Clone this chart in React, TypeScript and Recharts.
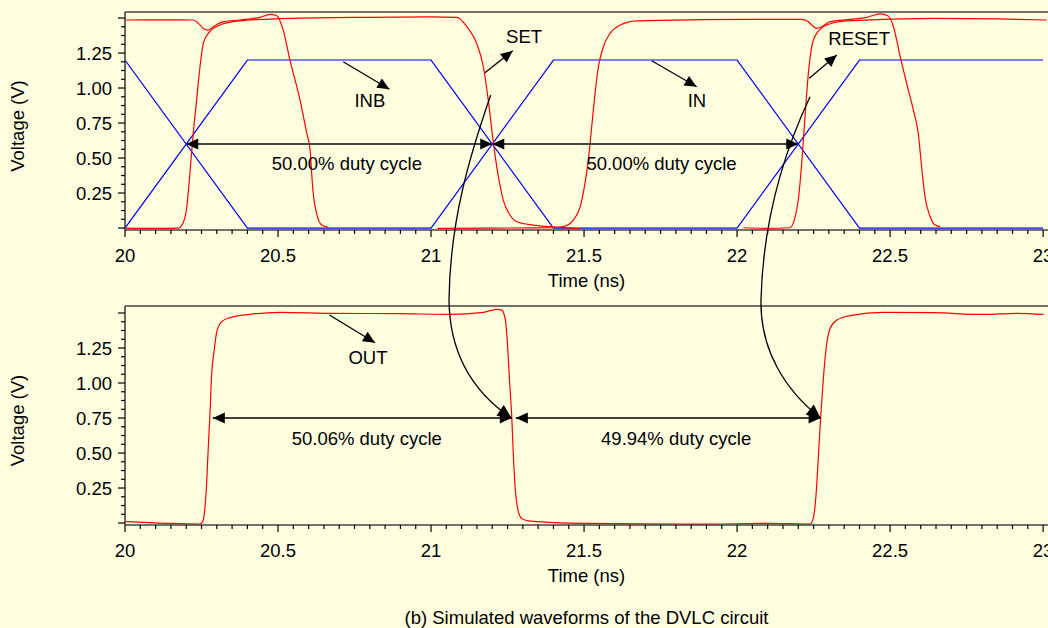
import React from 'react';
import { LineChart, Line, XAxis, YAxis, ReferenceLine, ReferenceDot } from 'recharts';

// ---- waveform data (time in ns, voltage in V) ----
type Pt = { t: number; v: number };
const mk = (rows: number[][]): Pt[] => rows.map(([t, v]) => ({ t, v }));

const inbWave = mk([[20, 0], [20.4, 1.2], [21.0, 1.2], [21.4, 0], [22.0, 0], [22.4, 1.2], [23.0, 1.2]]);
const inWave = mk([[20, 1.2], [20.4, 0], [21.0, 0], [21.4, 1.2], [22.0, 1.2], [22.4, 0], [23.0, 0]]);

const resetWaveA = mk([
  [20.0, 1.486], [20.12, 1.487], [20.223, 1.486], [20.24, 1.462], [20.256, 1.426], [20.272, 1.414],
  [20.289, 1.438], [20.321, 1.474], [20.376, 1.486], [20.441, 1.505], [20.474, 1.526], [20.496, 1.516],
  [20.517, 1.414], [20.539, 1.2], [20.572, 0.914], [20.594, 0.676], [20.605, 0.557], [20.61, 0.39],
  [20.615, 0.248], [20.626, 0.105], [20.643, 0.021], [20.664, 0.005],
]);
const setWaveA = mk([
  [20.0, 0.0], [20.1, -0.003], [20.174, 0.0], [20.189, 0.033], [20.202, 0.15], [20.212, 0.39],
  [20.223, 0.676], [20.234, 0.914], [20.245, 1.152], [20.256, 1.319], [20.272, 1.39], [20.31, 1.45],
  [20.376, 1.48], [20.5, 1.495], [20.8, 1.505], [21.0, 1.508], [21.084, 1.505], [21.117, 1.438],
  [21.149, 1.319], [21.171, 1.152], [21.187, 0.914], [21.204, 0.605], [21.22, 0.367], [21.236, 0.2],
  [21.258, 0.093], [21.28, 0.045], [21.334, 0.021], [21.389, 0.01], [21.487, -0.005],
]);
const resetWaveB = mk([
  [21.021, -0.002], [21.2, 0.0], [21.4, 0.002], [21.432, 0.01], [21.465, 0.057], [21.487, 0.15],
  [21.503, 0.319], [21.514, 0.486], [21.525, 0.724], [21.536, 0.962], [21.547, 1.152], [21.563, 1.295],
  [21.585, 1.39], [21.618, 1.45], [21.672, 1.48], [21.88, 1.488], [22.05, 1.49], [22.206, 1.49],
  [22.228, 1.48], [22.244, 1.45], [22.26, 1.426], [22.277, 1.438], [22.304, 1.474], [22.369, 1.49],
  [22.424, 1.505], [22.467, 1.529], [22.494, 1.514], [22.511, 1.438], [22.533, 1.224], [22.554, 1.033],
  [22.576, 0.843], [22.592, 0.676], [22.603, 0.438], [22.614, 0.224], [22.631, 0.081], [22.647, 0.021],
  [22.663, 0.01],
]);
const setWaveB = mk([
  [22.021, 0.002], [22.097, -0.002], [22.173, 0.002], [22.19, 0.081], [22.2, 0.2], [22.212, 0.486],
  [22.222, 0.795], [22.233, 1.105], [22.244, 1.295], [22.26, 1.39], [22.293, 1.45], [22.358, 1.48],
  [22.642, 1.498], [22.85, 1.494], [23.012, 1.486],
]);
const outWave = mk([
  [20.003, 0.01], [20.136, -0.002], [20.245, -0.007], [20.254, 0.01], [20.261, 0.105], [20.267, 0.295],
  [20.272, 0.533], [20.278, 0.795], [20.283, 1.057], [20.291, 1.224], [20.3, 1.367], [20.316, 1.438],
  [20.343, 1.467], [20.408, 1.49], [20.507, 1.505], [20.67, 1.498], [20.9, 1.495], [21.062, 1.49],
  [21.171, 1.505], [21.215, 1.526], [21.231, 1.521], [21.242, 1.462], [21.25, 1.271], [21.256, 1.033],
  [21.264, 0.748], [21.269, 0.486], [21.275, 0.248], [21.283, 0.105], [21.296, 0.033], [21.324, 0.014],
  [21.498, -0.002], [21.879, -0.008], [22.097, -0.002], [22.239, -0.007], [22.249, 0.033], [22.258, 0.2],
  [22.266, 0.486], [22.273, 0.748], [22.282, 1.033], [22.291, 1.248], [22.304, 1.39], [22.326, 1.45],
  [22.369, 1.481], [22.478, 1.505], [22.642, 1.502], [22.805, 1.49], [22.914, 1.498], [23.001, 1.49],
]);

// ---- axes ----
const xMajorTicks = [20, 20.5, 21, 21.5, 22, 22.5, 23];
const yLabelTicks = [0.25, 0.5, 0.75, 1.0, 1.25];
const xTicks: number[] = [];
for (let i = 0; i <= 60; i++) xTicks.push(Math.round((20 + i * 0.05) * 100) / 100);
const yTicks: number[] = [];
for (let i = 0; i <= 24; i++) yTicks.push(i * 0.0625);

// ---- annotations (data coordinates) ----
const topPointers = [
  { text: 'INB', from: [20.713, 1.188], to: [20.864, 0.991], at: [20.8, 0.912] },
  { text: 'IN', from: [21.721, 1.195], to: [21.868, 1.009], at: [21.869, 0.912] },
  { text: 'SET', from: [21.176, 1.109], to: [21.267, 1.266], at: [21.304, 1.366] },
  { text: 'RESET', from: [22.236, 1.069], to: [22.326, 1.236], at: [22.399, 1.355] },
];
const bottomPointers = [{ text: 'OUT', from: [20.668, 1.486], to: [20.817, 1.288], at: [20.794, 1.18] }];
const topSpans = [
  { x1: 20.2, x2: 21.2, y: 0.6, text: '50.00% duty cycle', at: [20.725, 0.462] },
  { x1: 21.2, x2: 22.2, y: 0.6, text: '50.00% duty cycle', at: [21.753, 0.462] },
];
const bottomSpans = [
  { x1: 20.287, x2: 21.264, y: 0.75, text: '50.06% duty cycle', at: [20.79, 0.605] },
  { x1: 21.277, x2: 22.273, y: 0.75, text: '49.94% duty cycle', at: [21.801, 0.605] },
];

const BG = '#FFFFE0';
const AXIS = '#444444';
const FONT = '"Liberation Sans", Arial, Helvetica, sans-serif';
const FS = 18.5;

const head = (x1: number, y1: number, x2: number, y2: number, len = 12, half = 5.5) => {
  const dx = x2 - x1, dy = y2 - y1;
  const d = Math.hypot(dx, dy) || 1;
  const ux = dx / d, uy = dy / d;
  const bx = x2 - ux * len, by = y2 - uy * len;
  return `${x2},${y2} ${bx - uy * half},${by + ux * half} ${bx + uy * half},${by - ux * half}`;
};

const isMajorX = (v: number) => Math.abs(v * 2 - Math.round(v * 2)) < 1e-6;
const isMajorY = (v: number) => Math.abs(v * 4 - Math.round(v * 4)) < 1e-6;

const XTick = (p: any) => {
  const v = p.payload.value;
  const major = isMajorX(v);
  return (
    <g>
      <line x1={p.x} x2={p.x} y1={p.y} y2={p.y + (major ? 7 : 4)} stroke="#000" strokeWidth={1.2} />
      {major && xMajorTicks.includes(v) && (
        <text x={p.x} y={p.y + 32} textAnchor="middle" fontSize={FS} fontFamily={FONT} fill="#000">
          {String(v)}
        </text>
      )}
    </g>
  );
};

const YTick = (p: any) => {
  const v = p.payload.value;
  const major = isMajorY(v);
  const labelled = yLabelTicks.some((t) => Math.abs(t - v) < 1e-6);
  return (
    <g>
      <line x1={p.x - (major ? 7 : 4)} x2={p.x} y1={p.y} y2={p.y} stroke="#000" strokeWidth={1.2} />
      {labelled && (
        <text x={p.x - 13} y={p.y} dy="0.36em" textAnchor="end" fontSize={FS} fontFamily={FONT} fill="#000">
          {v.toFixed(2)}
        </text>
      )}
    </g>
  );
};

const xTitle = (props: any) => {
  const vb = props.viewBox;
  return (
    <text x={vb.x + vb.width / 2} y={vb.y + 57} textAnchor="middle" fontSize={FS} fontFamily={FONT} fill="#000">
      Time (ns)
    </text>
  );
};
const yTitle = (props: any) => {
  const vb = props.viewBox;
  const cy = vb.y + vb.height / 2 + 5;
  return (
    <text x={24} y={cy} transform={`rotate(-90, 24, ${cy})`} textAnchor="middle" fontSize={FS} fontFamily={FONT} fill="#000">
      Voltage (V)
    </text>
  );
};

const pointerShape = (p: any) => (
  <g>
    <line x1={p.x1} y1={p.y1} x2={p.x2} y2={p.y2} stroke="#000" strokeWidth={1.3} />
    <polygon points={head(p.x1, p.y1, p.x2, p.y2, 12, 5.5)} fill="#000" />
  </g>
);
const spanShape = (color: string, w: number) => (p: any) => (
  <g>
    <line x1={p.x1} y1={p.y1} x2={p.x2} y2={p.y2} stroke={color} strokeWidth={w} />
    <polygon points={head(p.x2, p.y2, p.x1, p.y1, 12, 5.5)} fill="#000" />
    <polygon points={head(p.x1, p.y1, p.x2, p.y2, 12, 5.5)} fill="#000" />
  </g>
);
const textShape = (text: string) => (p: any) => (
  <text x={p.cx} y={p.cy} dy="0.36em" textAnchor="middle" fontSize={FS} fontFamily={FONT} fill="#000">
    {text}
  </text>
);

type Pointer = { text: string; from: number[]; to: number[]; at: number[] };
type Span = { x1: number; x2: number; y: number; text: string; at: number[] };
type Series = { data: Pt[]; color: string; key: string; curve: 'linear' | 'monotone' };

function Panel(props: {
  height: number;
  yMax: number;
  series: Series[];
  pointers: Pointer[];
  spans: Span[];
  spanColor: string;
  spanWidth: number;
}) {
  const { height, yMax, series, pointers, spans, spanColor, spanWidth } = props;
  return (
    <LineChart width={1048} height={height} margin={{ top: 12, right: 0, bottom: 0, left: 0 }}>
      <XAxis
        type="number"
        dataKey="t"
        domain={[20, 23.016]}
        allowDataOverflow
        ticks={xTicks}
        interval={0}
        tick={<XTick />}
        tickLine={false}
        tickSize={0}
        tickMargin={0}
        axisLine={{ stroke: AXIS, strokeWidth: 1.6 }}
        height={65}
        label={xTitle}
      />
      <YAxis
        type="number"
        domain={[-0.014, yMax]}
        allowDataOverflow
        ticks={yTicks}
        interval={0}
        tick={<YTick />}
        tickLine={false}
        tickSize={0}
        tickMargin={0}
        axisLine={{ stroke: AXIS, strokeWidth: 1.6 }}
        width={125}
        label={yTitle}
      />
      <ReferenceLine y={yMax} stroke={AXIS} strokeWidth={1.6} />
      {series.map((s) => (
        <Line
          key={s.key}
          data={s.data}
          dataKey="v"
          type={s.curve}
          stroke={s.color}
          strokeWidth={1.2}
          dot={false}
          activeDot={false}
          isAnimationActive={false}
        />
      ))}
      {spans.map((s, i) => (
        <ReferenceLine
          key={'sp' + i}
          segment={[{ x: s.x1, y: s.y }, { x: s.x2, y: s.y }]}
          shape={spanShape(spanColor, spanWidth)}
        />
      ))}
      {spans.map((s, i) => (
        <ReferenceDot key={'st' + i} x={s.at[0]} y={s.at[1]} r={1} shape={textShape(s.text)} />
      ))}
      {pointers.map((a, i) => (
        <ReferenceLine
          key={'pl' + i}
          segment={[{ x: a.from[0], y: a.from[1] }, { x: a.to[0], y: a.to[1] }]}
          shape={pointerShape}
        />
      ))}
      {pointers.map((a, i) => (
        <ReferenceDot key={'pt' + i} x={a.at[0]} y={a.at[1]} r={1} shape={textShape(a.text)} />
      ))}
    </LineChart>
  );
}

// curved SET / RESET links between the two panels (page pixels)
const links = [
  { d: 'M490.7,95 C470,155 450,220 449,300 C449.5,350 470,390 511.7,418.3', from: [470, 390], tip: [511.7, 418.3] },
  { d: 'M810,96.7 C785,150 763,220 761,300 C760,350 785,390 820.7,418.3', from: [785, 390], tip: [820.7, 418.3] },
];

export default function App() {
  return (
    <div
      style={{
        position: 'absolute',
        left: 0,
        top: 0,
        width: 1048,
        height: 628,
        background: BG,
        overflow: 'hidden',
        fontFamily: FONT,
      }}
    >
      <div style={{ position: 'absolute', left: 0, top: 0 }}>
        <Panel
          height={295}
          yMax={1.543}
          series={[
            { data: inbWave, color: '#0000FF', key: 'inb', curve: 'linear' },
            { data: inWave, color: '#0000FF', key: 'in', curve: 'linear' },
            { data: resetWaveA, color: '#FF0000', key: 'ra', curve: 'monotone' },
            { data: setWaveA, color: '#FF0000', key: 'sa', curve: 'monotone' },
            { data: resetWaveB, color: '#FF0000', key: 'rb', curve: 'monotone' },
            { data: setWaveB, color: '#FF0000', key: 'sb', curve: 'monotone' },
          ]}
          pointers={topPointers}
          spans={topSpans}
          spanColor="#444444"
          spanWidth={2}
        />
      </div>
      <div style={{ position: 'absolute', left: 0, top: 294 }}>
        <Panel
          height={296}
          yMax={1.55}
          series={[{ data: outWave, color: '#FF0000', key: 'out', curve: 'monotone' }]}
          pointers={bottomPointers}
          spans={bottomSpans}
          spanColor="#000000"
          spanWidth={1.3}
        />
      </div>
      <svg width={1048} height={628} style={{ position: 'absolute', left: 0, top: 0, pointerEvents: 'none' }}>
        {links.map((l, i) => (
          <g key={i}>
            <path d={l.d} fill="none" stroke="#000" strokeWidth={1.3} />
            <polygon points={head(l.from[0], l.from[1], l.tip[0], l.tip[1], 14, 6.5)} fill="#000" />
          </g>
        ))}
      </svg>
      <div
        style={{
          position: 'absolute',
          left: 125,
          width: 923,
          top: 607,
          textAlign: 'center',
          fontSize: FS,
          lineHeight: '22px',
          color: '#000',
        }}
      >
        (b) Simulated waveforms of the DVLC circuit
      </div>
    </div>
  );
}
